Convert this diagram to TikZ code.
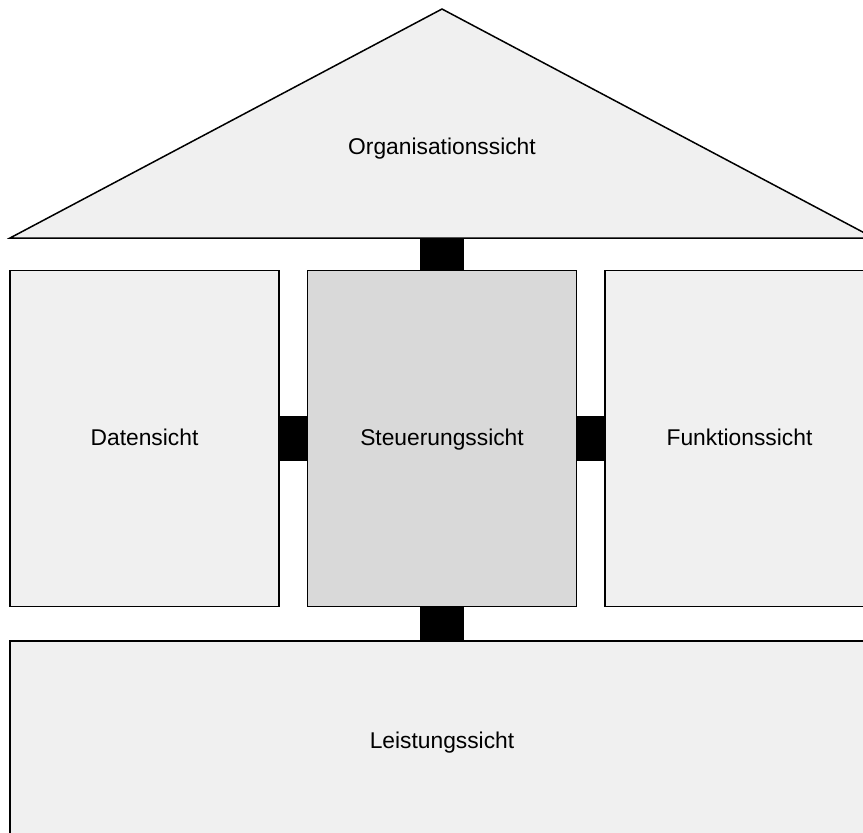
\documentclass[tikz,border=0pt]{standalone}
\usepackage{fontspec}
\setmainfont{Liberation Sans}
\usetikzlibrary{positioning}
\definecolor{viewgray}{HTML}{F0F0F0}
\definecolor{ctrlgray}{HTML}{D9D9D9}

\begin{document}
\begin{tikzpicture}[x=0.5pt, y=-0.5pt, line width=0.75pt, font=\fontsize{11.4}{13.7}\selectfont, text depth=.1em, text height=.8em, view/.style={rectangle, draw, fill=viewgray, minimum width=134.5pt, minimum height=168pt, inner sep=0pt}, link/.style={draw=black, line width=22pt}]
  \useasboundingbox (0,0) rectangle (863,832);
  \clip (0,0) rectangle (863,832);
  \fill[white] (0,0) rectangle (863,832);
  % roof
  \draw[fill=viewgray] (10,238) -- (442,9) -- (874,238) -- cycle;
  \node (orga) at (442,147) {Organisationssicht};
  \coordinate (roof) at (442,238);
  % the three columns and the base
  \node[view, fill=ctrlgray] (steuer) at (442,438.5) {Steuerungssicht};
  \node[view, left=13.5pt of steuer] (daten) {Datensicht};
  \node[view, right=13.5pt of steuer] (funktion) {Funktionssicht};
  \node[view, minimum width=432pt, minimum height=100pt, below=16.5pt of steuer] (leistung) {Leistungssicht};
  % links
  \draw[link] (roof) -- (steuer.north);
  \draw[link] (steuer.south) -- (leistung.north);
  \draw[link, line width=22.5pt] (daten.east) -- (steuer.west);
  \draw[link, line width=22.5pt] (steuer.east) -- (funktion.west);
\end{tikzpicture}
\end{document}
